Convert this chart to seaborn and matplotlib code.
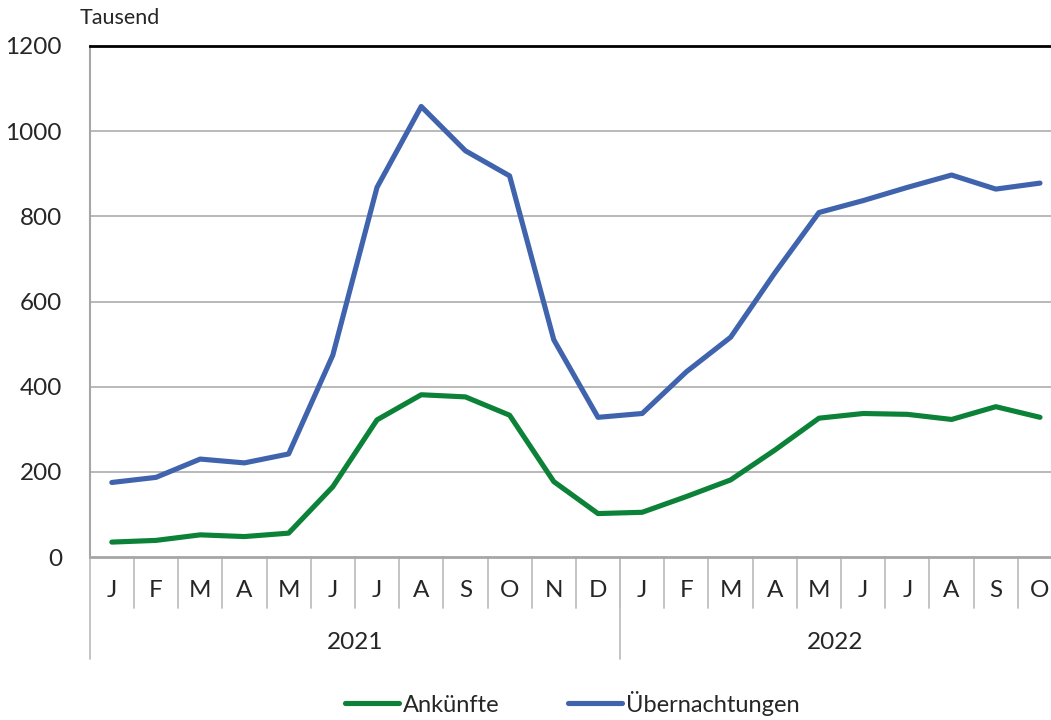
import pandas as pd
import seaborn as sns
import matplotlib.pyplot as plt
import matplotlib.transforms as mtransforms
import numpy as np

months = ["J", "F", "M", "A", "M", "J", "J", "A", "S", "O", "N", "D",
          "J", "F", "M", "A", "M", "J", "J", "A", "S", "O"]
years = ["2021", "2022"]
months_per_year = [12, 10]

ankuenfte = [35, 39, 52, 48, 56, 165, 322, 381, 376, 333, 177, 102,
             105, 142, 181, 251, 326, 337, 335, 323, 353, 328]
uebernachtungen = [175, 187, 230, 221, 242, 474, 868, 1058, 954, 895, 510, 328,
                   337, 435, 516, 667, 809, 837, 868, 897, 864, 878]

yticks = [0, 200, 400, 600, 800, 1000, 1200]

sns.set_style("white")
plt.rcParams['font.family'] = ['Lato', 'DejaVu Sans']

pos = np.arange(len(months))
df = pd.DataFrame({"pos": pos, "Ankünfte": ankuenfte, "Übernachtungen": uebernachtungen})
dfm = pd.melt(df, id_vars="pos", var_name="Serie", value_name="Wert")

fig = plt.figure(figsize=(10.51, 7.2), dpi=100)
# the original chart is cut off on the right, so the axes run past the figure edge
band = 44.2
left_px = 89.7
ax = fig.add_axes([left_px/1051, 1-557/720, 22*band/1051, (557-46)/720])

palette = {"Ankünfte": "#0b8237", "Übernachtungen": "#4063ad"}
sns.lineplot(data=dfm, x="pos", y="Wert", hue="Serie", palette=palette,
             linewidth=3.7, ax=ax, legend=True)
for ln in ax.lines:
    ln.set_solid_capstyle("round")
    ln.set_solid_joinstyle("round")

handles, labels = ax.get_legend_handles_labels()
ax.get_legend().remove()

ax.set_xlim(-0.5, len(months) - 0.5)
ax.set_ylim(0, 1200)
ax.set_yticks(yticks)
ax.set_yticklabels([str(t) for t in yticks], fontsize=17.5)
ax.tick_params(axis="y", length=0, pad=20)
ax.set_xlabel("")
ax.set_ylabel("")

# gridlines
for t in yticks[1:-1]:
    ax.axhline(t, color="#b3b3b3", linewidth=1.3, zorder=0)

ax.spines["right"].set_visible(False)
ax.spines["top"].set_color("black")
ax.spines["top"].set_linewidth(2)
ax.spines["left"].set_color("#a6a6a6")
ax.spines["left"].set_linewidth(1.5)
ax.spines["bottom"].set_color("#a6a6a6")
ax.spines["bottom"].set_linewidth(2)

# category ticks pointing upward, labels below
ax.set_xticks(pos)
ax.set_xticklabels([])
ax.tick_params(axis="x", direction="in", length=5, width=1.3, color="#a6a6a6")

trans = mtransforms.blended_transform_factory(ax.transData, ax.transAxes)
for i, m in enumerate(months):
    ax.text(i, -0.065, m, transform=trans, ha="center", va="center", fontsize=17.5)

# separators between categories
for b in np.arange(0.5, len(months) - 0.5, 1.0):
    ax.plot([b, b], [0, -0.1], transform=trans, color="#bfbfbf", lw=1.3, clip_on=False)

# year groups, label centred in the visible part of the group
fig.canvas.draw()
visible_right = ax.transData.inverted().transform((1051, 0))[0]
start = 0
for y, n in zip(years, months_per_year):
    ax.plot([start - 0.5, start - 0.5], [0, -0.2], transform=trans, color="#bfbfbf", lw=1.3, clip_on=False)
    end = min(start + n - 0.5, visible_right)
    ax.text((start - 0.5 + end) / 2, -0.168, y, transform=trans, ha="center", va="center", fontsize=17.5)
    start += n

fig.text(80/1051, 1-18/720, "Tausend", ha="left", va="center", fontsize=15.5)

fig.legend(handles, labels, loc="center", bbox_to_anchor=(572/1051, 1-703/720), ncol=2,
           frameon=False, fontsize=17, handlelength=2.3, handletextpad=0.15, columnspacing=2.9)

plt.savefig("out.png", dpi=100)
